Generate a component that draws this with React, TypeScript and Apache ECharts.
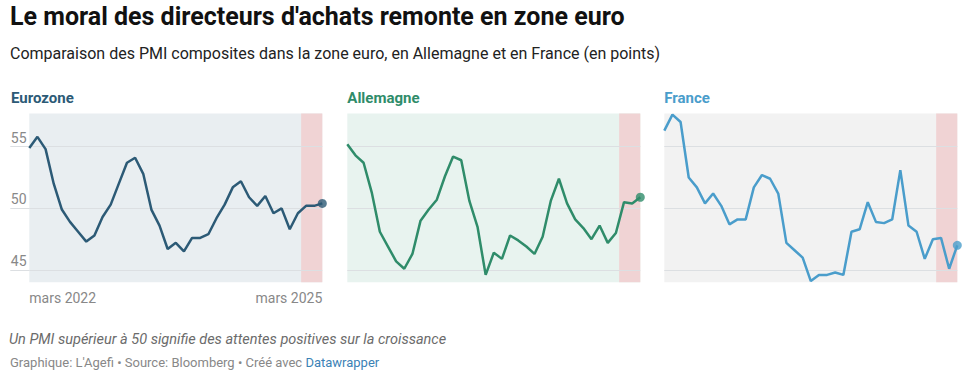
import React, { useEffect, useRef } from "react";
import * as echarts from "echarts";

const months = [
  "mars 2022", "avr. 2022", "mai 2022", "juin 2022", "juil. 2022", "août 2022", "sept. 2022", "oct. 2022", "nov. 2022", "déc. 2022",
  "janv. 2023", "févr. 2023", "mars 2023", "avr. 2023", "mai 2023", "juin 2023", "juil. 2023", "août 2023", "sept. 2023", "oct. 2023", "nov. 2023", "déc. 2023",
  "janv. 2024", "févr. 2024", "mars 2024", "avr. 2024", "mai 2024", "juin 2024", "juil. 2024", "août 2024", "sept. 2024", "oct. 2024", "nov. 2024", "déc. 2024",
  "janv. 2025", "févr. 2025", "mars 2025",
];

const eurozone = [54.9, 55.8, 54.8, 52.0, 49.9, 48.9, 48.1, 47.3, 47.8, 49.3, 50.3, 52.0, 53.7, 54.1, 52.8, 49.9, 48.6, 46.7, 47.2, 46.5, 47.6, 47.6, 47.9, 49.2, 50.3, 51.7, 52.2, 50.9, 50.2, 51.0, 49.6, 50.0, 48.3, 49.6, 50.2, 50.2, 50.4];
const allemagne = [55.2, 54.3, 53.7, 51.3, 48.1, 46.9, 45.7, 45.1, 46.3, 49.0, 49.9, 50.7, 52.6, 54.2, 53.9, 50.6, 48.5, 44.6, 46.4, 45.9, 47.8, 47.4, 46.9, 46.3, 47.7, 50.6, 52.4, 50.4, 49.1, 48.4, 47.5, 48.6, 47.2, 48.0, 50.5, 50.4, 50.9];
const france = [56.3, 57.6, 57.0, 52.5, 51.7, 50.4, 51.2, 50.2, 48.7, 49.1, 49.1, 51.7, 52.7, 52.4, 51.2, 47.2, 46.6, 46.0, 44.1, 44.6, 44.6, 44.8, 44.6, 48.1, 48.3, 50.5, 48.9, 48.8, 49.1, 53.1, 48.6, 48.1, 45.9, 47.5, 47.6, 45.1, 47.0];

const yTicks = [45, 50, 55];
const yMin = 44;
const yMax = 57.7;
// highlighted period (position on the month index scale)
const bandStart = 33.4;
const bandEnd = 36;

const panels = [
  { name: "Eurozone", data: eurozone, color: "#2c5a76", bg: "#e9eef1", left: 29.3, titleLeft: 11 },
  { name: "Allemagne", data: allemagne, color: "#2f8c6a", bg: "#e8f3ef", left: 347.3, titleLeft: 347.3 },
  { name: "France", data: france, color: "#4a9dcb", bg: "#f2f2f2", left: 664.3, titleLeft: 664.3 },
];

const FONT = "Roboto, 'Noto Sans', sans-serif";
const GRID_COLOR = "#dcdfe2";

export default function App() {
  const ref = useRef<HTMLDivElement>(null);

  useEffect(() => {
    document.body.style.margin = "0";
    if (!ref.current) return;
    const chart = echarts.init(ref.current, undefined, { renderer: "svg" });

    const grids = panels.map((p) => ({
      left: p.left,
      top: 113.4,
      width: 293,
      height: 168.9,
      show: true,
      backgroundColor: p.bg,
      borderWidth: 0,
    }));

    const xAxes = panels.map((p, i) => ({
      type: "value",
      gridIndex: i,
      min: 0,
      max: months.length - 1,
      axisLine: { show: false },
      axisTick: { show: false },
      splitLine: { show: false },
      axisLabel: {
        show: i === 0,
        customValues: [0, months.length - 1],
        formatter: (v: number) => months[Math.round(v)],
        color: "#888888",
        fontFamily: FONT,
        fontSize: 14,
        margin: 9,
        alignMinLabel: "left",
        alignMaxLabel: "right",
      },
    }));

    const yAxes = panels.map((p, i) => ({
      type: "value",
      gridIndex: i,
      min: yMin,
      max: yMax,
      axisLine: { show: false },
      axisTick: {
        show: i === 0,
        customValues: yTicks,
        length: 19,
        lineStyle: { color: GRID_COLOR, width: 1 },
      },
      splitLine: { show: false },
      axisLabel: {
        show: i === 0,
        customValues: yTicks,
        color: "#888888",
        fontFamily: FONT,
        fontSize: 14,
        align: "left",
        verticalAlign: "bottom",
        margin: 18.5,
        padding: [0, 0, 2, 0],
      },
    }));

    const series: any[] = [];
    panels.forEach((p, i) => {
      series.push({
        type: "line",
        xAxisIndex: i,
        yAxisIndex: i,
        data: p.data.map((v, k) => [k, v]),
        showSymbol: false,
        lineStyle: { color: p.color, width: 2.5 },
        itemStyle: { color: p.color },
        z: 3,
        markArea: {
          silent: true,
          itemStyle: { color: "#f0d3d4" },
          data: [[{ xAxis: bandStart }, { xAxis: bandEnd }]],
          z: 1,
        },
        markLine: {
          silent: true,
          symbol: "none",
          label: { show: false },
          lineStyle: { color: GRID_COLOR, width: 1, type: "solid" },
          data: yTicks.map((t) => ({ yAxis: t })),
          z: 2,
        },
      });
      const last = p.data.length - 1;
      series.push({
        type: "scatter",
        xAxisIndex: i,
        yAxisIndex: i,
        data: [[last, p.data[last]]],
        symbol: "circle",
        symbolSize: 9,
        itemStyle: { color: p.color },
        z: 4,
      });
    });

    const graphic: any[] = [
      {
        type: "text",
        left: 10,
        top: 4,
        style: { text: "Le moral des directeurs d'achats remonte en zone euro", fill: "#111111", font: `bold 25px ${FONT}` },
      },
      {
        type: "text",
        left: 10,
        top: 45,
        style: { text: "Comparaison des PMI composites dans la zone euro, en Allemagne et en France (en points)", fill: "#222222", font: `16px ${FONT}` },
      },
      {
        type: "text",
        left: 9,
        top: 332,
        style: { text: "Un PMI supérieur à 50 signifie des attentes positives sur la croissance", fill: "#6b6b6b", font: `italic 14.5px ${FONT}` },
      },
      {
        type: "text",
        left: 10,
        top: 356,
        style: {
          text: "{a|Graphique: L'Agefi • Source: Bloomberg • Créé avec }{b|Datawrapper}",
          rich: {
            a: { fill: "#888888", font: `13px ${FONT}` },
            b: { fill: "#3b82b6", font: `13px ${FONT}` },
          },
        },
      },
    ];
    panels.forEach((p) => {
      graphic.push({
        type: "text",
        left: p.titleLeft,
        top: 90,
        style: { text: p.name, fill: p.color, font: `bold 15px ${FONT}` },
      });
    });

    chart.setOption({
      animation: false,
      grid: grids,
      xAxis: xAxes,
      yAxis: yAxes,
      series,
      graphic,
    });

    return () => chart.dispose();
  }, []);

  return <div ref={ref} style={{ width: 978, height: 373 }} />;
}
